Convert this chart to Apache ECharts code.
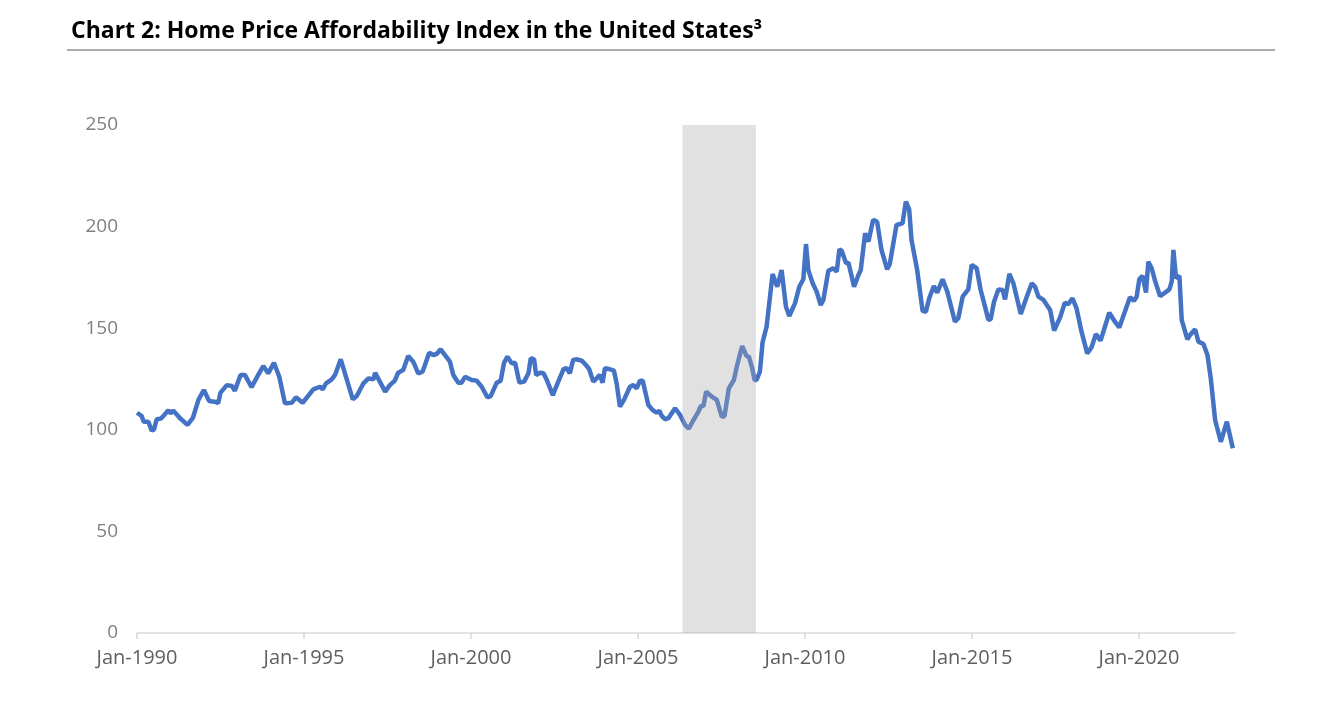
<!DOCTYPE html>
<html>
<head>
<meta charset="utf-8">
<title>Home Price Affordability Index</title>
<script src="https://cdn.jsdelivr.net/npm/echarts@6/dist/echarts.min.js"></script>
<style>
    html, body { margin: 0; padding: 0; background: #fff; }
    #chart { width: 1342px; height: 707px; }
</style>
</head>
<body>
<div id="chart"></div>
<script>
    // time points as decimal years, index values
    var years = [
        1990.00, 1990.14, 1990.20, 1990.34, 1990.44, 1990.51, 1990.59, 1990.71, 1990.79, 1990.94,
        1991.00, 1991.09, 1991.29, 1991.51, 1991.67, 1991.84, 1992.00, 1992.16, 1992.37, 1992.43,
        1992.50, 1992.69, 1992.84, 1992.93, 1993.10, 1993.23, 1993.43, 1993.63, 1993.78, 1993.93,
        1994.10, 1994.26, 1994.43, 1994.63, 1994.76, 1994.96, 1995.28, 1995.48, 1995.56, 1995.66,
        1995.83, 1995.93, 1996.10, 1996.46, 1996.58, 1996.78, 1996.93, 1997.08, 1997.13, 1997.43,
        1997.57, 1997.72, 1997.82, 1997.97, 1998.12, 1998.27, 1998.42, 1998.55, 1998.75, 1998.87,
        1998.97, 1999.09, 1999.37, 1999.47, 1999.62, 1999.72, 1999.82, 2000.02, 2000.17, 2000.32,
        2000.49, 2000.59, 2000.77, 2000.89, 2000.99, 2001.09, 2001.22, 2001.32, 2001.45, 2001.59,
        2001.72, 2001.79, 2001.89, 2001.95, 2002.07, 2002.17, 2002.27, 2002.45, 2002.57, 2002.77,
        2002.87, 2002.96, 2003.06, 2003.17, 2003.32, 2003.44, 2003.54, 2003.66, 2003.76, 2003.86,
        2003.94, 2004.01, 2004.16, 2004.28, 2004.36, 2004.46, 2004.58, 2004.76, 2004.86, 2004.96,
        2005.06, 2005.14, 2005.31, 2005.44, 2005.56, 2005.64, 2005.71, 2005.81, 2005.91, 2006.11,
        2006.26, 2006.41, 2006.52, 2006.66, 2006.81, 2006.88, 2006.96, 2007.04, 2007.21, 2007.36,
        2007.51, 2007.59, 2007.72, 2007.87, 2007.97, 2008.12, 2008.25, 2008.32, 2008.42, 2008.49,
        2008.55, 2008.65, 2008.73, 2008.85, 2009.03, 2009.17, 2009.30, 2009.43, 2009.53, 2009.70,
        2009.83, 2009.95, 2010.03, 2010.10, 2010.23, 2010.35, 2010.47, 2010.55, 2010.70, 2010.85,
        2010.95, 2011.03, 2011.10, 2011.23, 2011.30, 2011.47, 2011.60, 2011.67, 2011.80, 2011.90,
        2012.04, 2012.16, 2012.29, 2012.46, 2012.54, 2012.74, 2012.92, 2013.02, 2013.12, 2013.19,
        2013.36, 2013.52, 2013.62, 2013.72, 2013.86, 2013.96, 2014.12, 2014.26, 2014.49, 2014.59,
        2014.72, 2014.89, 2014.99, 2015.14, 2015.26, 2015.49, 2015.56, 2015.66, 2015.79, 2015.92,
        2015.99, 2016.12, 2016.24, 2016.46, 2016.64, 2016.79, 2016.89, 2016.99, 2017.14, 2017.34,
        2017.46, 2017.64, 2017.78, 2017.88, 2018.01, 2018.13, 2018.28, 2018.45, 2018.58, 2018.71,
        2018.85, 2018.95, 2019.11, 2019.28, 2019.41, 2019.63, 2019.73, 2019.85, 2019.93, 2020.01,
        2020.11, 2020.21, 2020.28, 2020.38, 2020.48, 2020.63, 2020.78, 2020.91, 2020.98, 2021.03,
        2021.11, 2021.21, 2021.28, 2021.45, 2021.53, 2021.68, 2021.78, 2021.93, 2022.05, 2022.15,
        2022.28, 2022.45, 2022.63, 2022.81
    ];
    var affordability = [
        108.4, 106.8, 104.0, 104.0, 99.6, 100.2, 105.2, 105.5, 106.8, 109.7,
        108.1, 109.4, 105.7, 102.4, 105.7, 114.7, 119.6, 114.2, 113.7, 113.0,
        118.3, 122.0, 121.6, 119.2, 127.0, 127.0, 121.0, 127.0, 131.4, 127.8,
        133.0, 126.1, 113.0, 113.3, 116.0, 113.3, 119.9, 121.2, 119.9, 122.9,
        124.8, 127.0, 134.7, 115.0, 116.6, 122.9, 125.3, 124.8, 128.1, 118.8,
        122.0, 124.2, 128.1, 129.4, 136.3, 133.5, 127.8, 128.6, 137.9, 136.8,
        137.3, 139.6, 133.5, 127.0, 123.2, 123.2, 126.1, 124.5, 124.2, 121.2,
        116.0, 116.6, 123.2, 124.2, 133.0, 136.0, 132.7, 133.0, 123.2, 123.7,
        127.8, 135.2, 134.7, 127.0, 128.1, 127.8, 124.5, 117.1, 122.0, 129.8,
        130.3, 127.8, 134.4, 134.7, 134.0, 131.9, 129.8, 123.7, 125.3, 127.0,
        123.2, 130.3, 129.8, 129.1, 122.9, 111.4, 114.7, 121.2, 122.0, 120.4,
        124.2, 124.2, 112.2, 109.7, 108.4, 109.4, 106.8, 105.2, 105.7, 110.6,
        107.3, 102.4, 100.5, 104.8, 108.9, 111.7, 111.7, 118.8, 116.3, 114.7,
        106.4, 106.8, 120.4, 124.5, 131.9, 141.2, 136.3, 136.0, 130.3, 124.5,
        124.5, 128.6, 143.0, 150.7, 176.7, 170.4, 178.6, 160.6, 156.0, 162.2,
        170.4, 174.1, 191.4, 178.6, 172.1, 168.0, 161.4, 163.9, 178.3, 179.5,
        177.8, 188.8, 188.1, 181.9, 182.3, 170.4, 176.2, 178.6, 196.7, 192.6,
        203.3, 202.4, 188.5, 179.0, 181.6, 200.8, 201.6, 212.3, 208.5, 193.4,
        178.6, 158.6, 158.1, 164.7, 170.8, 167.5, 174.1, 168.0, 153.2, 154.9,
        165.5, 169.1, 181.1, 179.5, 168.8, 154.2, 154.4, 163.0, 169.1, 168.8,
        164.2, 176.7, 172.1, 157.0, 165.5, 172.1, 170.4, 165.5, 163.9, 159.0,
        148.8, 155.4, 162.5, 161.9, 164.7, 159.8, 148.3, 137.6, 140.6, 147.1,
        143.9, 149.1, 157.6, 153.2, 150.4, 160.6, 165.2, 163.5, 165.5, 174.1,
        175.7, 167.5, 182.7, 179.5, 173.4, 165.8, 167.5, 169.1, 172.9, 188.5,
        174.6, 175.7, 154.0, 144.5, 146.7, 149.5, 143.4, 142.2, 136.8, 125.3,
        104.8, 94.1, 104.0, 90.9
    ];
    // shaded period (decimal years)
    var shadedPeriod = [2006.33, 2008.53];

    var myChart = echarts.init(document.getElementById('chart'));

    var labelFont = '"Open Sans", Lato, sans-serif';

    var option = {
        animation: false,
        backgroundColor: '#fff',
        title: {
            text: 'Chart 2: Home Price Affordability Index in the United States\u00b3',
            left: 66,
            top: 15,
            textStyle: {
                color: '#000',
                fontFamily: labelFont,
                fontWeight: 'bold',
                fontSize: 23
            }
        },
        graphic: [
            {
                type: 'line',
                shape: { x1: 67, y1: 50, x2: 1275, y2: 50 },
                style: { stroke: '#595959', lineWidth: 1 }
            }
        ],
        grid: {
            left: 137,
            right: 107,
            top: 125,
            bottom: 74
        },
        xAxis: {
            type: 'value',
            min: 1990,
            max: 2022.875,
            interval: 5,
            splitLine: { show: false },
            axisLine: { lineStyle: { color: '#d9d9d9', width: 1.5 } },
            axisTick: { show: true, length: 6, lineStyle: { color: '#d9d9d9', width: 1.5 } },
            axisLabel: {
                showMaxLabel: false,
                color: '#5f5f5f',
                fontFamily: labelFont,
                fontSize: 20,
                margin: 15,
                formatter: function (v) { return 'Jan-' + v; }
            }
        },
        yAxis: {
            type: 'value',
            min: 0,
            max: 250,
            interval: 50,
            splitLine: { show: false },
            axisLine: { show: false },
            axisTick: { show: false },
            axisLabel: {
                color: '#7f7f7f',
                fontFamily: labelFont,
                fontSize: 19,
                margin: 19
            }
        },
        series: [
            {
                type: 'line',
                z: 2,
                symbol: 'none',
                lineStyle: { color: '#4472C4', width: 4.5 },
                data: years.map(function (y, i) { return [y, affordability[i]]; })
            },
            {
                // shaded band drawn on top of the line, semi-transparent
                type: 'custom',
                z: 10,
                silent: true,
                data: [shadedPeriod],
                renderItem: function (params, api) {
                    var p0 = api.coord([api.value(0), 250]);
                    var p1 = api.coord([api.value(1), 0]);
                    return {
                        type: 'rect',
                        shape: { x: p0[0], y: p0[1], width: p1[0] - p0[0], height: p1[1] - p0[1] },
                        style: { fill: 'rgba(170,170,170,0.35)' }
                    };
                },
                encode: { x: [0, 1] }
            }
        ]
    };
    myChart.setOption(option);
</script>
</body>
</html>
